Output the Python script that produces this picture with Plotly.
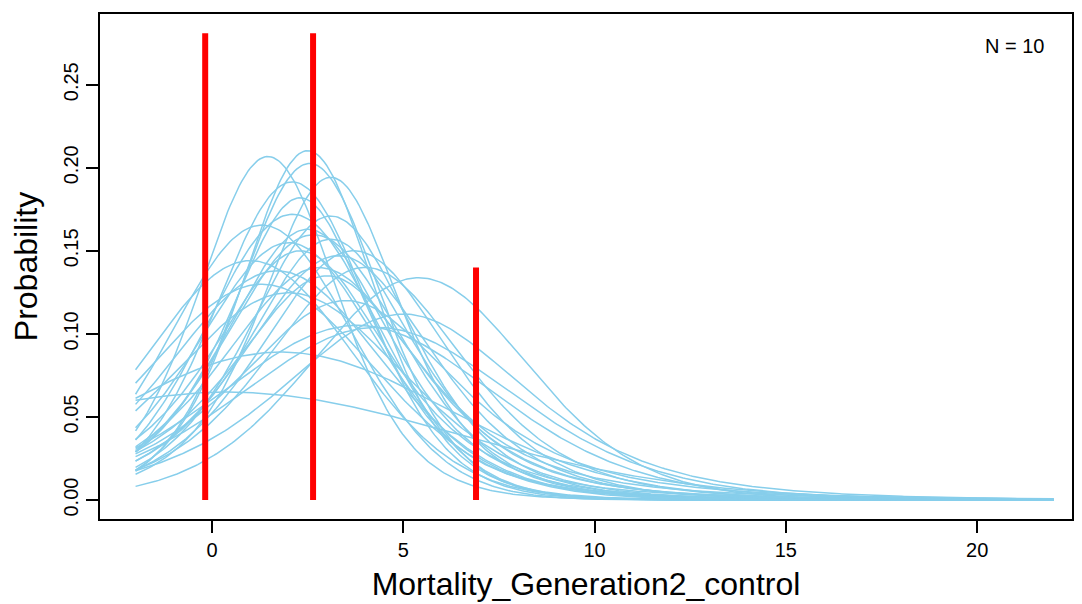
import math
import numpy as np
import plotly.graph_objects as go

# Posterior predictive t-curves (location, scale, normality)
curve_mu = [1.46, 2.50, 2.55, 3.10, 2.10, 2.30, 2.10, 3.10, 1.30, 2.50,
            2.65, 3.10, 1.00, 1.30, 3.70, 5.40, 3.80, 1.80, 0.40, 4.30,
            5.00, 2.00, 2.30, 3.30, 2.80, 3.50, 2.00, 3.00, 4.00, 1.70]
curve_sigma = [1.87, 1.82, 1.92, 1.93, 2.04, 2.02, 2.29, 2.22, 2.39, 2.30,
               2.41, 2.34, 2.74, 3.02, 2.55, 2.92, 3.70, 4.44, 6.10, 3.72,
               3.35, 3.11, 2.45, 2.58, 2.68, 3.06, 2.47, 2.68, 2.71, 2.82]
curve_nu = [8, 6, 10, 4, 12, 3, 20, 5, 30, 4,
            7, 3, 25, 15, 6, 12, 10, 30, 40, 8,
            4, 9, 3, 5, 4, 3, 6, 2.5, 5, 10]

# Data histogram (red bars)
hist_mids = [-0.18, 2.64, 6.90]
hist_density = [0.281, 0.281, 0.140]

x_min, x_max = -2.0, 22.0
x_grid = np.linspace(x_min, x_max, 400)


def t_density(x, mu, sigma, nu):
    c = math.exp(math.lgamma((nu + 1) / 2) - math.lgamma(nu / 2)) / math.sqrt(nu * math.pi)
    z = (x - mu) / sigma
    return c * (1 + z * z / nu) ** (-(nu + 1) / 2) / sigma


fig = go.Figure()
for mu, s, nu in zip(curve_mu, curve_sigma, curve_nu):
    fig.add_trace(go.Scatter(x=x_grid, y=t_density(x_grid, mu, s, nu), mode="lines",
                             line=dict(color="#87CEEB", width=1.5),
                             hoverinfo="skip", showlegend=False))

for xm, d in zip(hist_mids, hist_density):
    fig.add_trace(go.Scatter(x=[xm, xm], y=[0, d], mode="lines",
                             line=dict(color="#FF0000", width=6),
                             showlegend=False))

font_family = "Liberation Sans, Arial, sans-serif"
fig.update_layout(
    width=1074, height=596,
    margin=dict(l=92, r=10, t=4, b=85),
    plot_bgcolor="white", paper_bgcolor="white",
    font=dict(family=font_family, color="black"),
    xaxis=dict(range=[-2.93, 22.48], tickvals=[0, 5, 10, 15, 20],
               showline=True, mirror=True, linecolor="black", linewidth=2,
               ticks="outside", ticklen=12, tickwidth=2, tickcolor="black",
               showgrid=False, zeroline=False, tickfont=dict(size=20),
               title=dict(text="Mortality_Generation2_control", font=dict(size=32), standoff=13)),
    yaxis=dict(range=[-0.0114, 0.2926], tickvals=[0, 0.05, 0.10, 0.15, 0.20, 0.25],
               tickformat=".2f", tickangle=-90,
               showline=True, mirror=True, linecolor="black", linewidth=2,
               ticks="outside", ticklen=12, tickwidth=2, tickcolor="black",
               showgrid=False, zeroline=False, tickfont=dict(size=20),
               title=dict(text="Probability", font=dict(size=32), standoff=14)),
    annotations=[dict(text="N = 10", x=0.941, y=0.937, xref="paper", yref="paper",
                      xanchor="center", yanchor="middle",
                      showarrow=False, font=dict(size=20))],
)

fig.write_html("out.html")
